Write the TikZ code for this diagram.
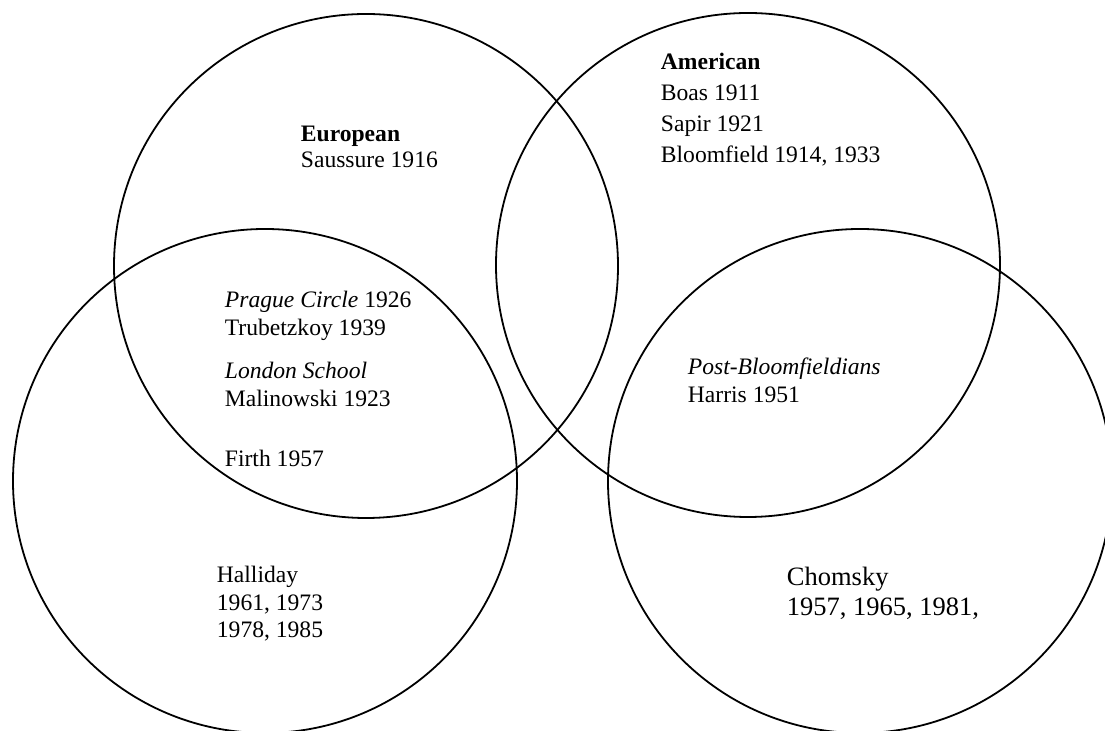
\documentclass[tikz,border=0pt]{standalone}
\usepackage{fontspec}
\setmainfont{Liberation Serif}

\begin{document}
\begin{tikzpicture}[x=0.5pt, y=-0.5pt, line width=0.9pt,
    school/.style={anchor=base west, inner sep=0pt, align=left}]
        \useasboundingbox (0, 0) rectangle (1105, 731);
        \clip (0, 0) rectangle (1105, 731);
        % the four circles
        \draw (366, 266) circle (126pt);
        \draw (748, 265) circle (126pt);
        \draw (265, 481) circle (126pt);
        \draw (860, 481) circle (126pt);
        % texts (placed at the baseline of their last line)
        \node[school, font=\fontsize{11.8}{13}\selectfont] (european) at (300, 168)
            {\textbf{European}\\ Saussure 1916};
        \node[school, font=\fontsize{11.8}{15.5}\selectfont] (american) at (660, 163)
            {\textbf{American}\\ Boas 1911\\ Sapir 1921\\ Bloomfield 1914, 1933};
        \node[school, font=\fontsize{11.8}{14}\selectfont] (prague) at (224, 467)
            {\textit{Prague Circle} 1926\\ Trubetzkoy 1939\\[7.5pt]
             \textit{London School}\\ Malinowski 1923\\[16pt] Firth 1957};
        \node[school, font=\fontsize{11.8}{14}\selectfont] (postbloom) at (687, 403)
            {\textit{Post-Bloomfieldians}\\ Harris 1951};
        \node[school, font=\fontsize{11.8}{13.75}\selectfont] (halliday) at (216, 638)
            {Halliday\\ 1961, 1973\\ 1978, 1985};
        \node[school, font=\fontsize{13.25}{15}\selectfont] (chomsky) at (786, 616)
            {Chomsky\\ 1957, 1965, 1981,};
    \end{tikzpicture}
\end{document}
